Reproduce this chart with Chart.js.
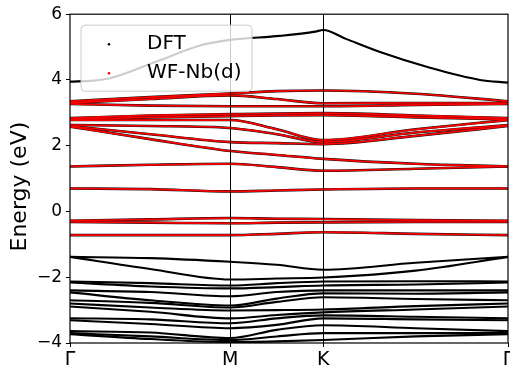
<!DOCTYPE html>
<html>
<head>
<meta charset="utf-8">
<script src="https://cdn.jsdelivr.net/npm/chart.js@4.4.1/dist/chart.umd.min.js"></script>
<style>
  body { margin: 0; background: #fff; }
</style>
</head>
<body>
<canvas id="bands" width="510" height="373"></canvas>
<script>
// high-symmetry path, fraction of total path length
const kTicks = [0, 0.366, 0.578, 1]
const kLabels = ['Γ', 'M', 'K', 'Γ']
const yTicks = [-4, -2, 0, 2, 4, 6]
const yTitle = 'Energy (eV)'

// k points where band energies were read
const kPts = [0, 0.183, 0.366, 0.472, 0.578, 0.789, 1]

// conduction band above the d manifold (read more densely)
const kTop = [0, 0.053, 0.091, 0.205, 0.297, 0.366, 0.479, 0.56, 0.578, 0.63, 0.708, 0.822, 0.936, 1]
const eTop = [3.95, 3.98, 4.05, 4.60, 5.05, 5.22, 5.34, 5.47, 5.52, 5.25, 4.85, 4.37, 4.00, 3.92]

// Nb d manifold (DFT and Wannier overlap)
const wf1 = [3.35, 3.48, 3.59, 3.66, 3.68, 3.58, 3.35]
const wf2 = [3.30, 3.42, 3.53, 3.42, 3.29, 3.30, 3.30]
const wf3 = [3.27, 3.22, 3.20, 3.20, 3.20, 3.24, 3.27]
const wf4 = [2.84, 2.92, 2.96, 2.98, 2.99, 2.92, 2.84]
const wf5 = [2.80, 2.86, 2.90, 2.92, 2.93, 2.86, 2.80]
const wf6 = [2.78, 2.78, 2.78, 2.50, 2.17, 2.50, 2.78]
const wf7 = [2.63, 2.60, 2.54, 2.35, 2.11, 2.40, 2.63]
const wf8 = [2.60, 2.35, 2.11, 2.08, 2.05, 2.30, 2.60]
const wf9 = [2.58, 2.20, 1.84, 1.72, 1.60, 1.45, 1.37]
const wf10 = [1.37, 1.42, 1.45, 1.35, 1.24, 1.30, 1.37]
const wf11 = [0.70, 0.68, 0.61, 0.64, 0.67, 0.70, 0.70]
const wf12 = [-0.28, -0.24, -0.20, -0.22, -0.23, -0.26, -0.28]
const wf13 = [-0.32, -0.34, -0.36, -0.34, -0.33, -0.32, -0.32]
const wf14 = [-0.72, -0.72, -0.72, -0.68, -0.63, -0.68, -0.72]

// valence bands (DFT only)
const vb1 = [-1.38, -1.42, -1.53, -1.62, -1.77, -1.56, -1.38]
const vb2 = [-1.38, -1.75, -2.07, -2.04, -2.01, -1.80, -1.38]
const vb3 = [-2.13, -2.18, -2.25, -2.18, -2.13, -2.12, -2.13]
const vb4 = [-2.16, -2.28, -2.34, -2.30, -2.25, -2.22, -2.16]
const vb5 = [-2.40, -2.45, -2.58, -2.45, -2.40, -2.40, -2.40]
const vb6 = [-2.46, -2.70, -2.86, -2.65, -2.49, -2.50, -2.46]
const vb7 = [-2.70, -2.78, -2.92, -2.75, -2.61, -2.66, -2.70]
const vb8 = [-2.80, -2.92, -3.01, -3.00, -2.98, -2.88, -2.80]
const vb9 = [-2.89, -3.05, -3.25, -3.15, -3.07, -2.98, -2.89]
const vb10 = [-3.25, -3.28, -3.40, -3.25, -3.16, -3.20, -3.25]
const vb11 = [-3.31, -3.42, -3.55, -3.45, -3.25, -3.28, -3.31]
const vb12 = [-3.64, -3.68, -3.85, -3.60, -3.46, -3.55, -3.64]
const vb13 = [-3.70, -3.80, -3.91, -3.80, -3.70, -3.70, -3.70]
const vb14 = [-3.73, -3.88, -3.97, -3.95, -3.91, -3.80, -3.73]

const wfBands = [wf1, wf2, wf3, wf4, wf5, wf6, wf7, wf8, wf9, wf10, wf11, wf12, wf13, wf14]
const vbBands = [vb1, vb2, vb3, vb4, vb5, vb6, vb7, vb8, vb9, vb10, vb11, vb12, vb13, vb14]

const toPoints = (ks, es) => es.map((e, i) => ({ x: ks[i], y: e }))

const lineBase = {
  showLine: true,
  pointRadius: 0,
  pointHoverRadius: 0,
  cubicInterpolationMode: 'monotone',
  fill: false,
}

const datasets = []
// red Wannier bands on top
for (const b of wfBands) {
  datasets.push({ ...lineBase, data: toPoints(kPts, b), borderColor: '#ff0000', borderWidth: 1.7, order: 0 })
}
// black DFT bands underneath
for (const b of wfBands) {
  datasets.push({ ...lineBase, data: toPoints(kPts, b), borderColor: '#111111', borderWidth: 2.6, order: 1 })
}
for (const b of vbBands) {
  datasets.push({ ...lineBase, data: toPoints(kPts, b), borderColor: '#000000', borderWidth: 2.1, order: 1 })
}
datasets.push({ ...lineBase, data: toPoints(kTop, eTop), borderColor: '#000000', borderWidth: 2.1, order: 1 })

const frameAndLegend = {
  id: 'frameAndLegend',
  afterDatasetsDraw: chart => {
    const ctx = chart.ctx
    const { left, right, top, bottom } = chart.chartArea
    const xs = chart.scales.x
    ctx.save()
    ctx.strokeStyle = '#000'
    ctx.lineWidth = 1
    for (const k of [kTicks[1], kTicks[2]]) {
      const px = Math.round(xs.getPixelForValue(k)) + 0.5
      ctx.beginPath()
      ctx.moveTo(px, top)
      ctx.lineTo(px, bottom)
      ctx.stroke()
    }
    ctx.lineWidth = 1.2
    ctx.strokeRect(left, top, right - left, bottom - top)

    // legend box
    const bx = left + 11, by = top + 11, bw = 171, bh = 66
    ctx.beginPath()
    ctx.roundRect(bx, by, bw, bh, 4)
    ctx.fillStyle = 'rgba(255,255,255,0.8)'
    ctx.fill()
    ctx.strokeStyle = '#cccccc'
    ctx.lineWidth = 1
    ctx.stroke()

    ctx.font = '20px "DejaVu Sans"'
    ctx.textBaseline = 'middle'
    ctx.textAlign = 'left'
    const entries = [['DFT', '#000000'], ['WF-Nb(d)', '#ff0000']]
    entries.forEach(([label, color], i) => {
      const cy = by + 19 + i * 29
      ctx.fillStyle = color
      ctx.beginPath()
      ctx.arc(bx + 28, cy, 1.3, 0, Math.PI * 2)
      ctx.fill()
      ctx.fillStyle = '#000'
      ctx.fillText(label, bx + 66, cy)
    })

    // y axis title
    ctx.translate(20, (top + bottom) / 2 + 8)
    ctx.rotate(-Math.PI / 2)
    ctx.font = '22px "DejaVu Sans"'
    ctx.textAlign = 'center'
    ctx.fillText(yTitle, 0, 0)
    ctx.restore()
  },
}

Chart.defaults.font.family = '"DejaVu Sans"'
Chart.defaults.color = '#000'

new Chart(document.getElementById('bands'), {
  type: 'scatter',
  data: { datasets },
  plugins: [frameAndLegend],
  options: {
    animation: false,
    responsive: false,
    events: [],
    layout: { padding: { top: 11, right: 2, left: 0, bottom: 0 } },
    plugins: { legend: { display: false }, tooltip: { enabled: false } },
    scales: {
      x: {
        type: 'linear',
        min: 0,
        max: 1,
        afterBuildTicks: scale => {
          scale.ticks = kTicks.map(v => ({ value: v }))
        },
        afterFit: scale => {
          scale.height = 30
          scale.paddingLeft = 0
          scale.paddingRight = 0
        },
        ticks: {
          autoSkip: false,
          maxRotation: 0,
          padding: 2,
          font: { size: 19 },
          callback: (v, i) => kLabels[i],
        },
        grid: { drawOnChartArea: false, drawTicks: true, tickLength: 4, tickColor: '#000' },
        border: { display: false },
      },
      y: {
        min: -4,
        max: 6,
        afterBuildTicks: scale => {
          scale.ticks = yTicks.map(v => ({ value: v }))
        },
        afterFit: scale => {
          scale.width = 70
        },
        ticks: {
          padding: 4,
          font: { size: 17 },
          callback: v => (v < 0 ? '\u2212' + Math.abs(v) : String(v)),
        },
        grid: { drawOnChartArea: false, drawTicks: true, tickLength: 4, tickColor: '#000' },
        border: { display: false },
      },
    },
  },
})
</script>
</body>
</html>
